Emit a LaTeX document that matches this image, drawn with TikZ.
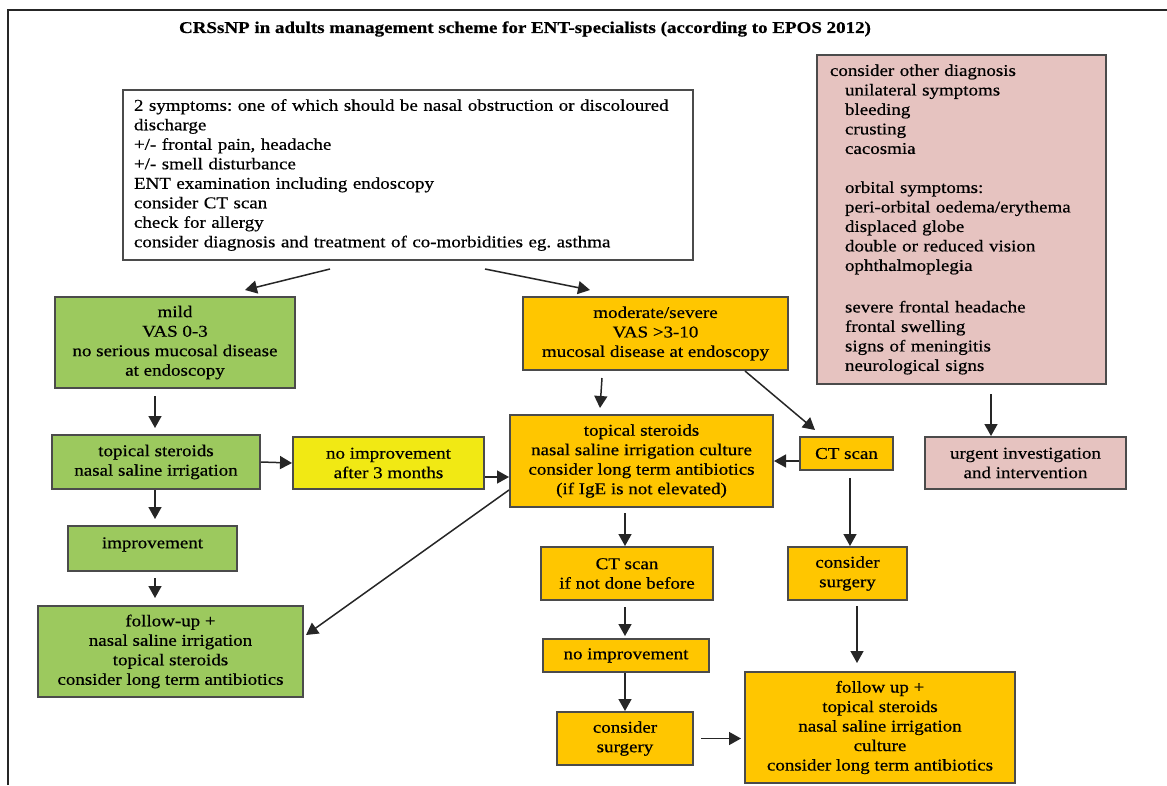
\documentclass[tikz,border=0pt]{standalone}
\usepackage{fontspec}
\setmainfont{Liberation Serif}[FakeStretch=1.15,FakeBold=0.5]
\usetikzlibrary{arrows.meta}
\frenchspacing
\definecolor{mildgreen}{RGB}{156,201,94}
\definecolor{sevgold}{RGB}{255,198,0}
\definecolor{waityellow}{RGB}{241,233,20}
\definecolor{alarmpink}{RGB}{230,195,192}
\definecolor{boxline}{RGB}{75,75,75}
\tikzset{
    box/.style={draw=boxline, line width=2pt, inner sep=0pt, align=center,
        font=\fontsize{16.5}{19.5}\selectfont},
    greenbox/.style={box, fill=mildgreen},
    goldbox/.style={box, fill=sevgold},
    arr/.style={-{Triangle[length=12pt,width=13pt]}, line width=1.5pt, black!85}
}
\begin{document}
\begin{tikzpicture}[x=1pt,y=-1pt]
                \useasboundingbox (0,0) rectangle (1167,785);
                \draw[line width=2.5pt, black!85] (8,785) -- (8,10) -- (1167,10);
                \node[font=\fontsize{16.5}{19.5}\selectfont\bfseries] (title) at (525,29) {CRSsNP in adults management scheme for ENT-specialists (according to EPOS 2012)};
                \node[box, fill=white, minimum width=570pt, minimum height=170pt, inner xsep=11pt, text width=548pt, align=left] (symptoms) at (408,175)
                    {2 symptoms: one of which should be nasal obstruction or discoloured\\ discharge\\ +/- frontal pain, headache\\ +/- smell disturbance\\ ENT examination including endoscopy\\ consider CT scan\\ check for allergy\\ consider diagnosis and treatment of co-morbidities eg. asthma};
                \node[box, fill=alarmpink, minimum width=289pt, minimum height=329pt, inner xsep=13pt, text width=263pt, align=left] (other) at (961.5,219.5)
                    {consider other diagnosis\\ \hspace*{15pt}unilateral symptoms\\ \hspace*{15pt}bleeding\\ \hspace*{15pt}crusting\\ \hspace*{15pt}cacosmia\\[19.5pt]
                     \hspace*{15pt}orbital symptoms:\\ \hspace*{15pt}peri-orbital oedema/erythema\\ \hspace*{15pt}displaced globe\\ \hspace*{15pt}double or reduced vision\\ \hspace*{15pt}ophthalmoplegia\\[22pt]
                     \hspace*{15pt}severe frontal headache\\ \hspace*{15pt}frontal swelling\\ \hspace*{15pt}signs of meningitis\\ \hspace*{15pt}neurological signs};
                \node[box, fill=alarmpink, minimum width=201pt, minimum height=52pt] (urgent) at (1025.5,463) {urgent investigation\\ and intervention};
                \node[greenbox, minimum width=240pt, minimum height=91pt] (mild) at (175,342.5) {mild\\ VAS 0-3\\ no serious mucosal disease\\ at endoscopy};
                \node[goldbox, minimum width=265pt, minimum height=73pt] (moderate) at (655.5,333.5) {moderate/severe\\ VAS >3-10\\ mucosal disease at endoscopy};
                \node[greenbox, minimum width=208pt, minimum height=54pt] (gtopical) at (156,462) {topical steroids\\ nasal saline irrigation};
                \node[box, fill=waityellow, minimum width=191pt, minimum height=52pt] (noimpthree) at (388.5,463) {no improvement\\ after 3 months};
                \node[goldbox, minimum width=263pt, minimum height=92pt] (otopical) at (641.5,461) {topical steroids\\ nasal saline irrigation culture\\ consider long term antibiotics\\ (if IgE is not elevated)};
                \node[goldbox, minimum width=93pt, minimum height=33pt] (ctscan) at (846.5,453.5) {CT scan};
                \node[greenbox, minimum width=169pt, minimum height=45pt] (improve) at (152.5,548.5) {improvement\\[-8pt]};
                \node[greenbox, minimum width=265pt, minimum height=91pt] (gfollow) at (170.5,651.5) {follow-up +\\ nasal saline irrigation\\ topical steroids\\ consider long term antibiotics};
                \node[goldbox, minimum width=172pt, minimum height=53pt] (ctbefore) at (627,573.5) {CT scan\\ if not done before};
                \node[goldbox, minimum width=119pt, minimum height=53pt] (surgright) at (847.5,573.5) {consider\\ surgery};
                \node[goldbox, minimum width=166pt, minimum height=33pt] (noimp) at (626,655.5) {no improvement};
                \node[goldbox, minimum width=136pt, minimum height=53pt] (surgmid) at (625,738.5) {consider\\ surgery};
                \node[goldbox, minimum width=270pt, minimum height=111pt] (ofollow) at (880,727.5) {follow up +\\ topical steroids\\ nasal saline irrigation\\ culture\\ consider long term antibiotics};
                \draw[arr] ([xshift=-78pt,yshift=-8pt]symptoms.south) -- ([xshift=70pt,yshift=6pt]mild.north);
                \draw[arr] ([xshift=77pt,yshift=-8pt]symptoms.south) -- ([xshift=-65.5pt,yshift=6pt]moderate.north);
                \draw[arr] ([xshift=-20pt,yshift=-7pt]mild.south) -- ([xshift=-1pt,yshift=6pt]gtopical.north);
                \draw[arr] (gtopical.east) -- (noimpthree.west);
                \draw[arr] ([yshift=-14pt]noimpthree.east) -- ([yshift=-16pt]otopical.west);
                \draw[arr] ([xshift=-53.5pt,yshift=-7pt]moderate.south) -- ([xshift=-41.5pt,yshift=6pt]otopical.north);
                \draw[arr] ([xshift=89.5pt]moderate.south) -- ([xshift=-31.5pt,yshift=6pt]ctscan.north);
                \draw[arr] ([yshift=-7.5pt]ctscan.west) -- (otopical.east |- 0,461);
                \draw[arr, shorten <=7pt] ([xshift=3.5pt]ctscan.south) -- ([xshift=2.5pt]surgright.north);
                \draw[arr] ([xshift=9.5pt,yshift=-5pt]surgright.south) -- ([xshift=-23pt,yshift=8pt]ofollow.north);
                \draw[arr, shorten <=5pt] ([xshift=-16.5pt]otopical.south) -- ([xshift=-2pt]ctbefore.north);
                \draw[arr, shorten <=6pt] ([xshift=-2pt]ctbefore.south) -- ([xshift=-1pt,yshift=2pt]noimp.north);
                \draw[arr] ([xshift=-1pt]noimp.south) -- (surgmid.north);
                \draw[arr, shorten <=7pt, shorten >=3pt] (surgmid.east) -- (ofollow.west |- surgmid.east);
                \draw[arr, shorten >=6pt] ([xshift=-1pt]gtopical.south) -- ([xshift=-1pt]gtopical.south |- improve.north);
                \draw[arr, shorten <=6pt, shorten >=7pt] ([xshift=2.5pt]improve.south) -- ([xshift=2.5pt]improve.south |- gfollow.north);
                \draw[arr] ([yshift=-29pt]otopical.west) -- ([xshift=2pt,yshift=16.5pt]gfollow.east);
                \draw[arr, shorten <=9pt] ([xshift=29.5pt]other.south) -- ([xshift=-34.5pt]urgent.north);
            \end{tikzpicture}
\end{document}
